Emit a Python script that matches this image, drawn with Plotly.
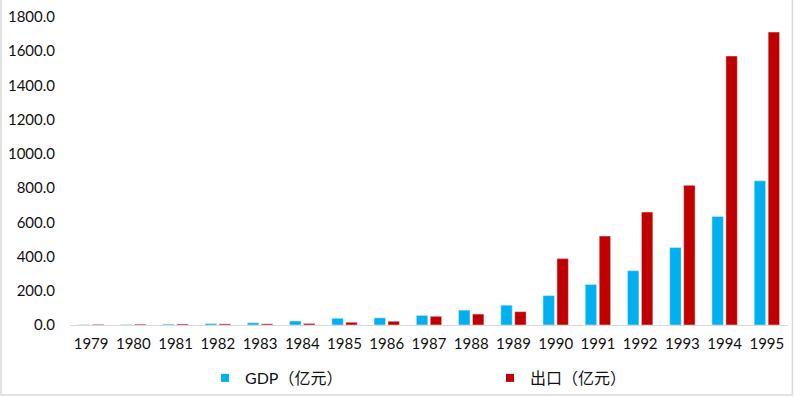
import plotly.graph_objects as go

years = ["1979", "1980", "1981", "1982", "1983", "1984", "1985", "1986", "1987",
         "1988", "1989", "1990", "1991", "1992", "1993", "1994", "1995"]
gdp = [2.0, 2.7, 5.0, 8.3, 13.1, 23.4, 39.0, 41.7, 55.9, 87.0, 115.7, 171.7,
       236.7, 317.3, 453.1, 634.7, 842.5]
export = [4.0, 5.0, 6.0, 6.5, 7.0, 9.0, 16.0, 22.0, 51.0, 64.0, 78.0, 388.0,
          520.0, 660.0, 816.0, 1572.0, 1712.0]
y_ticks = [0, 200, 400, 600, 800, 1000, 1200, 1400, 1600, 1800]
name_gdp = "GDP（亿元）"
name_exp = "出口（亿元）"

BLUE = "#00B0F0"
RED = "#C00000"
FONT = "Lato, 'Noto Sans CJK SC', sans-serif"
TXT = "#111111"

fig = go.Figure()
fig.add_trace(go.Bar(x=years, y=gdp, name=name_gdp, marker=dict(color=BLUE),
                     showlegend=False))
fig.add_trace(go.Bar(x=years, y=export, name=name_exp, marker=dict(color=RED),
                     showlegend=False))
# legend entries with small square markers
fig.add_trace(go.Scatter(x=[None], y=[None], mode="markers", name=name_gdp,
                         marker=dict(symbol="square", size=8, color=BLUE)))
fig.add_trace(go.Scatter(x=[None], y=[None], mode="markers", name=name_exp,
                         marker=dict(symbol="square", size=8, color=RED)))

L, R, T, B = 70, 8.4, 17, 72
W, H = 796, 397
pw = W - L - R
ph = H - T - B

def px_x(p):
    return (p - L) / pw

def px_y(p):
    return (H - B - p) / ph

fig.update_layout(
    width=W, height=H, autosize=False,
    margin=dict(l=L, r=R, t=T, b=B, pad=0, autoexpand=False),
    paper_bgcolor="white", plot_bgcolor="white",
    font=dict(family=FONT, size=15, color=TXT),
    barmode="group", bargap=0.34, bargroupgap=0.18,
    showlegend=True,
    legend=dict(orientation="h", xref="container", yref="container",
                x=205 / W, xanchor="left",
                y=1 - 361 / H, yanchor="top",
                bgcolor="rgba(0,0,0,0)",
                entrywidth=240, entrywidthmode="pixels",
                font=dict(size=16, color=TXT),
                itemclick=False, itemdoubleclick=False),
    xaxis=dict(type="category", showgrid=False, zeroline=False, automargin=False,
               showline=True, linecolor="#D9D9D9", linewidth=1,
               ticks="", ticklabelstandoff=5,
               tickfont=dict(size=15, color=TXT)),
    yaxis=dict(range=[0, 1800], tickvals=y_ticks, tickformat=".1f",
               automargin=False, ticklabelstandoff=14,
               showgrid=False, zeroline=False, showline=False,
               ticks="", tickfont=dict(size=15, color=TXT)),
    shapes=[dict(type="rect", xref="paper", yref="paper",
                 x0=px_x(1), x1=px_x(792), y0=px_y(395), y1=px_y(-2),
                 line=dict(color="#D9D9D9", width=1.5), fillcolor="rgba(0,0,0,0)",
                 layer="above")],
)

fig.write_html("out.html",
               config={"displayModeBar": False},
               post_script="document.body.style.margin='0px';"
                           "document.body.style.overflow='hidden';")
